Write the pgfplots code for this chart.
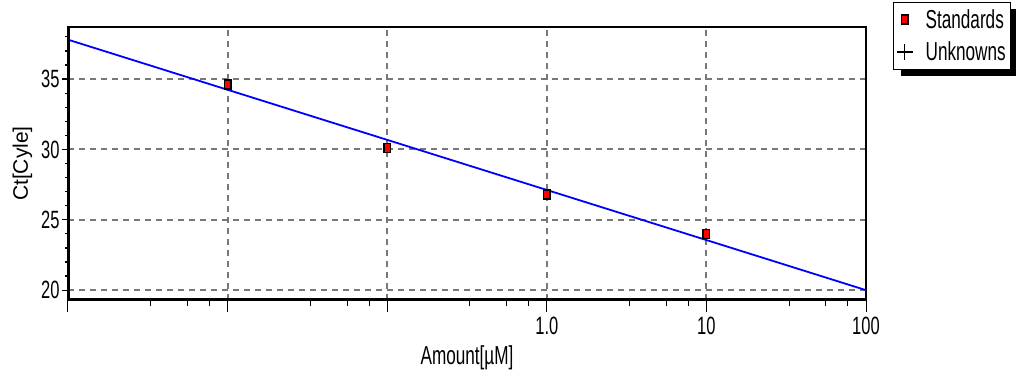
\documentclass[border=0pt]{standalone}
\usepackage{pgfplots}
\pgfplotsset{compat=1.18}
\usepackage{fontspec}
\setmainfont{Liberation Sans}
\newfontfamily\narrowfont{Liberation Sans}[FakeStretch=0.66]
\usetikzlibrary{shadows}
\definecolor{gridgray}{RGB}{120,120,120}
\begin{document}
\begin{tikzpicture}[x=1pt,y=1pt]
\useasboundingbox (-68,-81) rectangle (948,300);
\begin{axis}[
  at={(0,0)}, anchor=south west, scale only axis,
  width=798pt, height=273pt,
  xmode=log, xmin=1e-3, xmax=100, ymin=19.3, ymax=38.7,
  xtick={1e-3,1e-2,1e-1,1,10,100},
  xticklabels={,,,1.0,10,100},
  minor xtick={3.3e-3,5.6e-3,7.7e-3,3.3e-2,5.6e-2,7.7e-2,3.3e-1,5.6e-1,7.7e-1,3.3,5.6,7.7,33,56,77},
  ytick={20,25,30,35}, yticklabels={},
  ytick style={draw=none},
  xtick pos=lower, tick align=outside,
  major tick length=12pt, minor tick length=6pt,
  xtick style={black, line width=1pt},
  grid=major,
  every major grid/.style={dash pattern=on 6pt off 5pt, line width=2pt, draw=gridgray},
  axis line style={line width=1.5pt},
  x tick label style={font=\narrowfont\fontsize{25}{27}\selectfont, yshift=-2pt},
  xlabel={\narrowfont\fontsize{26}{28}\selectfont Amount[µM]},
  xlabel style={yshift=-4pt},
  legend style={at={(1.034,1.092)}, anchor=north west, draw=black, line width=1pt,
    font=\narrowfont\fontsize{26}{28}\selectfont, inner xsep=3pt, inner ysep=5pt,
    row sep=8pt, column sep=11pt, legend cell align=left,
    drop shadow={shadow xshift=7pt, shadow yshift=-7pt, fill=black, opacity=1}},
]
\addplot[blue, line width=1.8pt, forget plot] coordinates {(0.001,37.8) (100,20.0)};
\addplot[only marks, mark=square*, mark size=4.5pt, mark options={xscale=0.72, fill=red, draw=black, line width=1.4pt}]
  coordinates {(0.01,34.6) (0.1,30.1) (1,26.8) (10,24.0)};
\addlegendentry{Standards}
\addlegendimage{only marks, mark=+, mark size=8pt, black, line width=1.3pt}
\addlegendentry{Unknowns}
\draw[line width=4pt, black] (rel axis cs:0,1) -- (rel axis cs:0,0) -- (rel axis cs:1,0);
\end{axis}
\begin{axis}[
  at={(0,0)}, anchor=south west, scale only axis,
  width=798pt, height=273pt,
  xmode=log, xmin=1e-3, xmax=100, ymin=19.3, ymax=38.7,
  hide x axis, axis line style={draw=none},
  ytick={20,25,30,35}, yticklabels={20,25,30,35},
  minor ytick={20,...,38},
  ytick pos=left, tick align=outside,
  major tick length=6pt, minor tick length=3pt,
  ytick style={black, line width=1.2pt},
  y tick label style={font=\narrowfont\fontsize{25}{27}\selectfont, xshift=1pt},
  ylabel={Ct[Cyle]},
  ylabel style={font=\fontsize{21}{23}\selectfont, yshift=2pt},
]
\end{axis}
\end{tikzpicture}
\end{document}
